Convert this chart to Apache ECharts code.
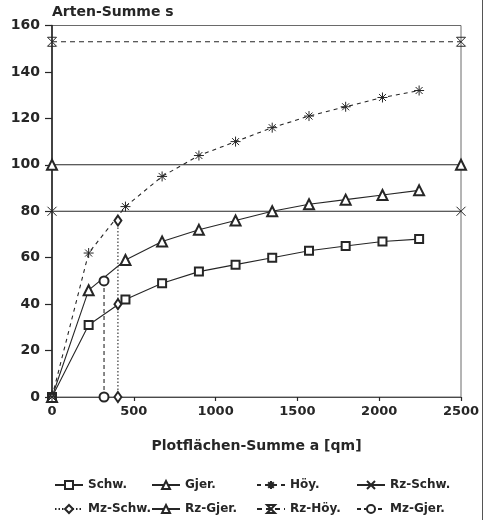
<!DOCTYPE html>
<html>
<head>
<meta charset="utf-8">
<script src="https://cdn.jsdelivr.net/npm/echarts@6/dist/echarts.min.js"></script>
<style>
  html, body { margin: 0; padding: 0; background: #fff; }
  #chart { width: 491px; height: 520px; }
</style>
</head>
<body>
<div id="chart"></div>
<script>
// Cumulative plot area (qm) and cumulative species counts
const plotArea = [0, 224, 449, 673, 898, 1122, 1346, 1571, 1795, 2020, 2244];
const schw = [0, 31, 42, 49, 54, 57, 60, 63, 65, 67, 68];
const gjer = [0, 46, 59, 67, 72, 76, 80, 83, 85, 87, 89];
const hoy = [0, 62, 82, 95, 104, 110, 116, 121, 125, 129, 132];

// Reference totals (horizontal lines across the whole area range)
const rzRange = [0, 2500];
const rzSchw = 80;
const rzGjer = 100;
const rzHoy = 153;

// Minimum-area values (vertical drop lines)
const mzSchwArea = 403;
const mzSchwSpecies = [0, 40, 76];
const mzGjerArea = 318;
const mzGjerSpecies = [0, 50];

const xTicks = [0, 500, 1000, 1500, 2000, 2500];
const yTicks = [0, 20, 40, 60, 80, 100, 120, 140, 160];

const names = ['Schw.', 'Gjer.', 'Höy.', 'Rz-Schw.', 'Mz-Schw.', 'Rz-Gjer.', 'Rz-Höy.', 'Mz-Gjer.'];

const ink = '#262626';
const font = 'DejaVu Sans';

const asterisk = 'path://M5,0L5,10M0,5L10,5M1.5,1.5L8.5,8.5M8.5,1.5L1.5,8.5';
const cross = 'path://M0,0L10,10M10,0L0,10';
const hourglass = 'path://M0,0L10,0L0,10L10,10Z';

function pairs(xs, ys) { return xs.map((x, i) => [x, ys[i]]); }
function flat(v) { return rzRange.map(x => [x, v]); }
function vertical(a, ys) { return ys.map(y => [a, y]); }

function lineSeries(name, data, symbol, size, lineType, pathSymbol) {
  return {
    type: 'line',
    name: name,
    data: data,
    symbol: symbol,
    symbolSize: size,
    showAllSymbol: true,
    animation: false,
    lineStyle: { color: ink, width: 1.1, type: lineType },
    itemStyle: pathSymbol
      ? { color: 'rgba(0,0,0,0)', borderColor: ink, borderWidth: 1 }
      : { color: ink, borderColor: ink, borderWidth: 1 },
    emphasis: { disabled: true },
    z: 3
  };
}

const legendPos = [
  [49, 474], [146, 474], [251, 474], [351, 474],
  [49, 498], [146, 498], [251, 498], [351, 498]
];

const legends = names.map((n, i) => ({
  data: [n],
  left: legendPos[i][0],
  top: legendPos[i][1],
  itemWidth: 28,
  itemHeight: 10,
  selectedMode: false,
  textStyle: { fontFamily: font, fontWeight: 'bold', fontSize: 12, color: ink }
}));

const chart = echarts.init(document.getElementById('chart'), null, { renderer: 'canvas' });

chart.setOption({
  backgroundColor: '#fff',
  animation: false,
  grid: {
    left: 52, right: 30, top: 25.5, bottom: 123,
    show: true, borderColor: '#6a6a6a', borderWidth: 1, backgroundColor: 'transparent'
  },
  legend: legends,
  xAxis: {
    type: 'value',
    min: xTicks[0], max: xTicks[xTicks.length - 1], interval: 500,
    name: 'Plotflächen-Summe a [qm]',
    nameLocation: 'middle',
    nameGap: 42,
    nameTextStyle: { fontFamily: font, fontWeight: 'bold', fontSize: 14, color: ink },
    axisLine: { show: true, lineStyle: { color: '#4a4a4a', width: 1.2 } },
    axisTick: { show: true, length: 4, lineStyle: { color: ink, width: 1.2 } },
    axisLabel: {
      margin: 8, fontFamily: font, fontWeight: 'bold', fontSize: 13, color: ink,
      formatter: v => String(v)
    },
    splitLine: { show: false }
  },
  yAxis: {
    type: 'value',
    min: yTicks[0], max: yTicks[yTicks.length - 1], interval: 20,
    name: 'Arten-Summe s',
    nameLocation: 'end',
    nameGap: 6,
    nameTextStyle: { fontFamily: font, fontWeight: 'bold', fontSize: 14, color: ink, align: 'left' },
    axisLine: { show: true, lineStyle: { color: ink, width: 1.6 } },
    axisTick: { show: true, length: 7, lineStyle: { color: ink, width: 1.2 } },
    axisLabel: {
      margin: 12, fontFamily: font, fontWeight: 'bold', fontSize: 14, color: ink,
      formatter: v => String(v)
    },
    splitLine: { show: false }
  },
  series: [
    lineSeries('Schw.', pairs(plotArea, schw), 'emptyRect', 8, 'solid'),
    lineSeries('Gjer.', pairs(plotArea, gjer), 'emptyTriangle', 10, 'solid'),
    lineSeries('Höy.', pairs(plotArea, hoy), asterisk, 10, [4, 4], true),
    lineSeries('Rz-Schw.', flat(rzSchw), cross, 9, 'solid', true),
    lineSeries('Mz-Schw.', vertical(mzSchwArea, mzSchwSpecies), 'emptyDiamond', [7, 10], [1.5, 2]),
    lineSeries('Rz-Gjer.', flat(rzGjer), 'emptyTriangle', 10, 'solid'),
    lineSeries('Rz-Höy.', flat(rzHoy), hourglass, 9, [5, 4], true),
    lineSeries('Mz-Gjer.', vertical(mzGjerArea, mzGjerSpecies), 'emptyCircle', 9, [4, 3])
  ],
  graphic: [
    {
      type: 'line',
      shape: { x1: 482.5, y1: 0, x2: 482.5, y2: 520 },
      style: { stroke: '#555', lineWidth: 1 },
      silent: true
    }
  ]
});
</script>
</body>
</html>
